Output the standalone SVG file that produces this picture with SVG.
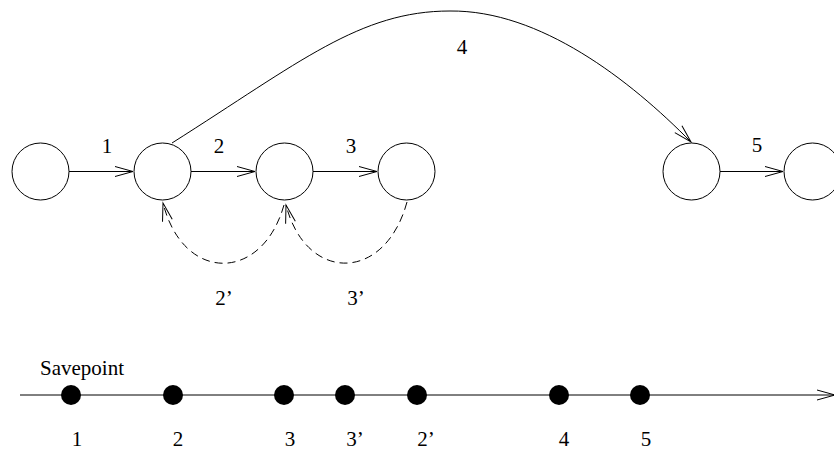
<svg xmlns="http://www.w3.org/2000/svg" width="834" height="451" viewBox="0 0 834 451">
<style>
.node{fill:#fff;stroke:#000;stroke-width:1}
.edge{fill:none;stroke:#000;stroke-width:1}
.dash{stroke-dasharray:8,5}
.lbl{font-family:"Liberation Serif","Times New Roman",serif;font-size:21px;fill:#000;text-anchor:middle}
.dot{fill:#000}
</style>
<defs>
<marker id="arr" markerUnits="userSpaceOnUse" markerWidth="20" markerHeight="14" refX="0" refY="0" viewBox="-19 -7 20 14" orient="auto" overflow="visible">
<path d="M-18,-5 L0,0 L-18,5" fill="none" stroke="#000" stroke-width="1"/>
</marker>
</defs>
<rect width="834" height="451" fill="#fff"/>
<g id="connectors">
<path class="edge" d="M69,171.5 L133,171.5" marker-end="url(#arr)"/>
<path class="edge" d="M191,171.5 L255,171.5" marker-end="url(#arr)"/>
<path class="edge" d="M313,171.5 L377,171.5" marker-end="url(#arr)"/>
<path class="edge" d="M720,171.5 L783,171.5" marker-end="url(#arr)"/>
<path class="edge" d="M172,143 C300,62 360,11 450,11 C540,10 630,80 691,142" marker-end="url(#arr)"/>
<path class="edge dash" d="M284,205 C262,283 183,283 163,203" marker-end="url(#arr)"/>
<path class="edge dash" d="M407,202 C385,283 306,283 286,205" marker-end="url(#arr)"/>
<path class="edge" d="M20,395 L835,395" marker-end="url(#arr)"/>
</g>
<g id="n1"><circle class="node" cx="40.5" cy="171.5" r="28.5"/></g>
<g id="n2"><circle class="node" cx="162.5" cy="171.5" r="28.5"/></g>
<g id="n3"><circle class="node" cx="284.5" cy="171.5" r="28.5"/></g>
<g id="n4"><circle class="node" cx="406.5" cy="171.5" r="28.5"/></g>
<g id="n5"><circle class="node" cx="691.5" cy="171.5" r="28.5"/></g>
<g id="n6"><circle class="node" cx="812.5" cy="171.5" r="28.5"/></g>
<g id="edge-labels">
<text class="lbl" x="107" y="153">1</text>
<text class="lbl" x="219" y="153">2</text>
<text class="lbl" x="351" y="153">3</text>
<text class="lbl" x="757" y="152">5</text>
<text class="lbl" x="462" y="54">4</text>
<text class="lbl" x="224" y="305">2’</text>
<text class="lbl" x="356" y="305">3’</text>
</g>
<g id="timeline">
<text class="lbl" x="40" y="375" style="text-anchor:start">Savepoint</text>
<circle class="dot" cx="71" cy="395" r="10"/>
<circle class="dot" cx="173" cy="395" r="10"/>
<circle class="dot" cx="284" cy="395" r="10"/>
<circle class="dot" cx="345" cy="395" r="10"/>
<circle class="dot" cx="417" cy="395" r="10"/>
<circle class="dot" cx="559" cy="395" r="10"/>
<circle class="dot" cx="640" cy="395" r="10"/>
<text class="lbl" x="77" y="446">1</text>
<text class="lbl" x="178" y="446">2</text>
<text class="lbl" x="290" y="446">3</text>
<text class="lbl" x="355" y="446">3’</text>
<text class="lbl" x="426" y="446">2’</text>
<text class="lbl" x="564" y="446">4</text>
<text class="lbl" x="646" y="446">5</text>
</g>
</svg>
